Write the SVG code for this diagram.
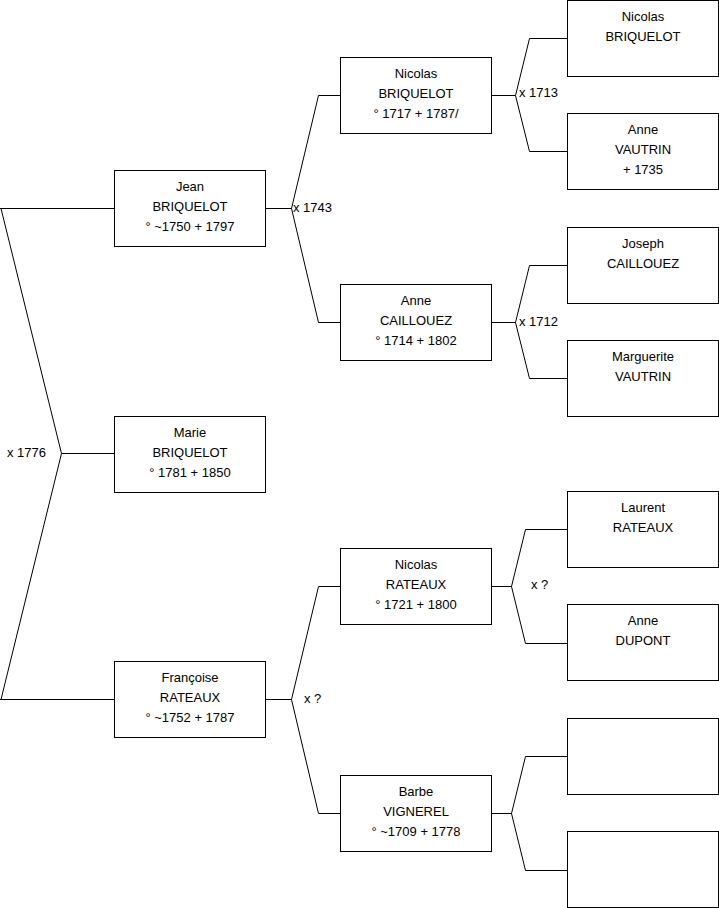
<svg xmlns="http://www.w3.org/2000/svg" width="719" height="908" viewBox="0 0 719 908">
<style>
.box{fill:#fff;stroke:#000;stroke-width:1}
.t{font-family:"Liberation Sans",Arial,sans-serif;font-size:13px;fill:#000;text-anchor:middle}
.l{font-family:"Liberation Sans",Arial,sans-serif;font-size:13px;fill:#000}
.c{fill:none;stroke:#000;stroke-width:1}
</style>
<rect width="719" height="908" fill="#fff"/>
<g id="connectors" class="c">
<path d="M0,208.5 H114.5 M0,699.5 H114.5 M1,208.5 L61.5,453.5 L1,699.5 M61.5,453.5 H114.5"/>
<path d="M265,208.5 H291.5 L318.5,95.5 H340.5 M291.5,208.5 L318.5,322.5 H340.5"/>
<path d="M265,699.5 H291.5 L318.5,586.5 H340.5 M291.5,699.5 L318.5,813.5 H340.5"/>
<path d="M492,95.5 H515.5 L529.5,38.5 H567.5 M515.5,95.5 L529.5,151.5 H567.5"/>
<path d="M492,322.5 H515.5 L529.5,265.5 H567.5 M515.5,322.5 L529.5,378.5 H567.5"/>
<path d="M492,586.5 H511.5 L525.5,529.5 H567.5 M511.5,586.5 L525.5,643.5 H567.5"/>
<path d="M492,813.5 H511.5 L525.5,756.5 H567.5 M511.5,813.5 L525.5,870.5 H567.5"/>
</g>
<g id="labels">
<text class="l" x="7" y="457">x 1776</text>
<text class="l" x="293" y="212">x 1743</text>
<text class="l" x="304" y="703">x ?</text>
<text class="l" x="519" y="97">x 1713</text>
<text class="l" x="519" y="326">x 1712</text>
<text class="l" x="531" y="589">x ?</text>
</g>
<g id="jean">
<rect class="box" x="114.5" y="170.5" width="151" height="76"/>
<text class="t" x="190" y="191">Jean</text>
<text class="t" x="190" y="211">BRIQUELOT</text>
<text class="t" x="190" y="231">° ~1750 + 1797</text>
</g>
<g id="marie">
<rect class="box" x="114.5" y="416.5" width="151" height="76"/>
<text class="t" x="190" y="437">Marie</text>
<text class="t" x="190" y="457">BRIQUELOT</text>
<text class="t" x="190" y="477">° 1781 + 1850</text>
</g>
<g id="francoise">
<rect class="box" x="114.5" y="661.5" width="151" height="76"/>
<text class="t" x="190" y="682">Françoise</text>
<text class="t" x="190" y="702">RATEAUX</text>
<text class="t" x="190" y="722">° ~1752 + 1787</text>
</g>
<g id="nicolas-briquelot">
<rect class="box" x="340.5" y="57.5" width="151" height="76"/>
<text class="t" x="416" y="78">Nicolas</text>
<text class="t" x="416" y="98">BRIQUELOT</text>
<text class="t" x="416" y="118">° 1717 + 1787/</text>
</g>
<g id="anne-caillouez">
<rect class="box" x="340.5" y="284.5" width="151" height="76"/>
<text class="t" x="416" y="305">Anne</text>
<text class="t" x="416" y="325">CAILLOUEZ</text>
<text class="t" x="416" y="345">° 1714 + 1802</text>
</g>
<g id="nicolas-rateaux">
<rect class="box" x="340.5" y="548.5" width="151" height="76"/>
<text class="t" x="416" y="569">Nicolas</text>
<text class="t" x="416" y="589">RATEAUX</text>
<text class="t" x="416" y="609">° 1721 + 1800</text>
</g>
<g id="barbe-vignerel">
<rect class="box" x="340.5" y="775.5" width="151" height="76"/>
<text class="t" x="416" y="796">Barbe</text>
<text class="t" x="416" y="816">VIGNEREL</text>
<text class="t" x="416" y="836">° ~1709 + 1778</text>
</g>
<g id="nicolas-briquelot-sr">
<rect class="box" x="567.5" y="0.5" width="151" height="76"/>
<text class="t" x="643" y="21">Nicolas</text>
<text class="t" x="643" y="41">BRIQUELOT</text>
</g>
<g id="anne-vautrin">
<rect class="box" x="567.5" y="113.5" width="151" height="76"/>
<text class="t" x="643" y="134">Anne</text>
<text class="t" x="643" y="154">VAUTRIN</text>
<text class="t" x="643" y="174">+ 1735</text>
</g>
<g id="joseph-caillouez">
<rect class="box" x="567.5" y="227.5" width="151" height="76"/>
<text class="t" x="643" y="248">Joseph</text>
<text class="t" x="643" y="268">CAILLOUEZ</text>
</g>
<g id="marguerite-vautrin">
<rect class="box" x="567.5" y="340.5" width="151" height="76"/>
<text class="t" x="643" y="361">Marguerite</text>
<text class="t" x="643" y="381">VAUTRIN</text>
</g>
<g id="laurent-rateaux">
<rect class="box" x="567.5" y="491.5" width="151" height="76"/>
<text class="t" x="643" y="512">Laurent</text>
<text class="t" x="643" y="532">RATEAUX</text>
</g>
<g id="anne-dupont">
<rect class="box" x="567.5" y="604.5" width="151" height="76"/>
<text class="t" x="643" y="625">Anne</text>
<text class="t" x="643" y="645">DUPONT</text>
</g>
<g id="unknown-father">
<rect class="box" x="567.5" y="718.5" width="151" height="76"/>
</g>
<g id="unknown-mother">
<rect class="box" x="567.5" y="831.5" width="151" height="76"/>
</g>
</svg>
